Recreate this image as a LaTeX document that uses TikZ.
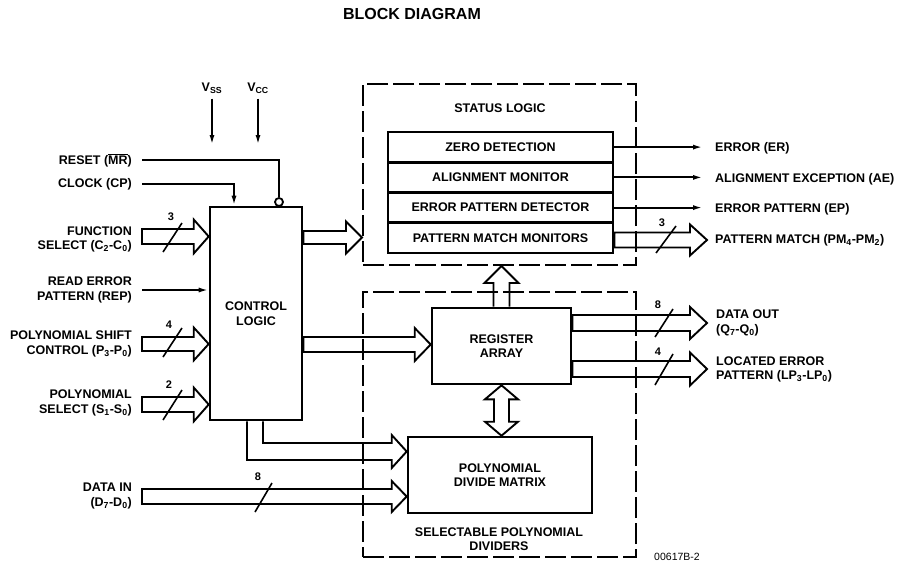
\documentclass[tikz,border=0pt]{standalone}
\usepackage{fontspec}
\setmainfont{Liberation Sans}
\usetikzlibrary{arrows.meta,calc}
% horizontal fat arrow: #1 start, #2 tip, #3 half shaft, #4 half head, #5 head length
\newcommand\fatR[5]{%
  \draw[fat] let \p1=#1, \p2=#2 in
  ({\x1},{\y2+#3pt}) -- ({\x2-#5pt},{\y2+#3pt}) -- ({\x2-#5pt},{\y2+#4pt}) -- ({\x2},{\y2})
  -- ({\x2-#5pt},{\y2-#4pt}) -- ({\x2-#5pt},{\y2-#3pt}) -- ({\x1},{\y2-#3pt}) -- cycle;}
% vertical fat arrow pointing up: #1 start (bottom), #2 tip (top)
\newcommand\fatU[5]{%
  \draw[fat] let \p1=#1, \p2=#2 in
  ({\x2-#3pt},{\y1}) -- ({\x2-#3pt},{\y2-#5pt}) -- ({\x2-#4pt},{\y2-#5pt}) -- ({\x2},{\y2})
  -- ({\x2+#4pt},{\y2-#5pt}) -- ({\x2+#3pt},{\y2-#5pt}) -- ({\x2+#3pt},{\y1});}
% vertical double fat arrow: #1 top tip, #2 bottom tip
\newcommand\fatUD[5]{%
  \draw[fat] let \p1=#1, \p2=#2 in
  ({\x1},{\y1}) -- ({\x1+#4pt},{\y1-#5pt}) -- ({\x1+#3pt},{\y1-#5pt}) -- ({\x1+#3pt},{\y2+#5pt})
  -- ({\x1+#4pt},{\y2+#5pt}) -- ({\x1},{\y2}) -- ({\x1-#4pt},{\y2+#5pt}) -- ({\x1-#3pt},{\y2+#5pt})
  -- ({\x1-#3pt},{\y1-#5pt}) -- ({\x1-#4pt},{\y1-#5pt}) -- cycle;}
\begin{document}
\begin{tikzpicture}[x=1pt,y=-1pt,
  txt/.style={font=\bfseries\fontsize{12.5}{14.5}\selectfont, inner sep=0pt},
  lbl/.style={txt, align=right, anchor=east},
  rlbl/.style={txt, align=left, anchor=west},
  ctext/.style={txt, align=center},
  box/.style={draw, line width=2.6pt, ctext},
  rowbox/.style={draw, line width=2.6pt, minimum width=225pt, minimum height=30.25pt, ctext},
  dbox/.style={draw, line width=2pt, dash pattern=on 21pt off 5pt},
  fat/.style={draw, line width=1.9pt, line join=miter},
  thinline/.style={line width=1.9pt},
  sig/.style={thinline, -{Latex[length=10pt,width=5pt]}},
  slash/.style={line width=1.6pt},
  num/.style={font=\bfseries\fontsize{11}{12}\selectfont, inner sep=0pt}
]
\useasboundingbox (0,0) rectangle (901,562);

% title
\node[font=\bfseries\fontsize{16}{18}\selectfont, inner sep=0pt] (title) at (412,14) {BLOCK DIAGRAM};

% main blocks
\node[box, minimum width=92pt, minimum height=213pt] (ctrl) at (256,313.5) {CONTROL\\LOGIC};
\node[dbox, minimum width=273pt, minimum height=181pt] (stat) at (499.5,174.5) {};
\node[dbox, minimum width=273pt, minimum height=265pt] (spd) at (499.5,424.5) {};
\node[ctext] (statlbl) at (500,108) {STATUS LOGIC};
\node[ctext] (spdlbl) at (499,539) {SELECTABLE POLYNOMIAL\\DIVIDERS};
\node[rowbox] (zd) at (500.5,147.1) {ZERO DETECTION};
\node[rowbox] (am) at (500.5,177.4) {ALIGNMENT MONITOR};
\node[rowbox] (epd) at (500.5,207.6) {ERROR PATTERN DETECTOR};
\node[rowbox] (pmm) at (500.5,237.9) {PATTERN MATCH MONITORS};
\node[box, minimum width=139pt, minimum height=76pt] (reg) at (501.5,346) {REGISTER\\ARRAY};
\node[box, minimum width=184pt, minimum height=76pt] (pdm) at (500,475) {POLYNOMIAL\\DIVIDE MATRIX};

% supply pins
\node[txt] (vss) at (212,88) {V\textsubscript{SS}};
\node[txt] (vcc) at (258,88) {V\textsubscript{CC}};
\coordinate (vssEnd) at (212,145);
\coordinate (vccEnd) at (258,145);
\draw[sig] ([yshift=-5pt]vss.south) -- (vssEnd);
\draw[sig] ([yshift=-5pt]vcc.south -| vccEnd) -- (vccEnd);

% left labels
\node[lbl] (rst) at (132,160) {RESET ($\overline{\mbox{MR}}$)};
\node[lbl] (clk) at (132,184) {CLOCK (CP)};
\node[lbl] (fs) at (132,239.5) {FUNCTION\\SELECT (C\textsubscript{2}-C\textsubscript{0})};
\node[lbl] (rep) at (132,290) {READ ERROR\\PATTERN (REP)};
\node[lbl] (psc) at (132,344) {POLYNOMIAL SHIFT\\CONTROL (P\textsubscript{3}-P\textsubscript{0})};
\node[lbl] (ps) at (132,403) {POLYNOMIAL\\SELECT (S\textsubscript{1}-S\textsubscript{0})};
\node[lbl] (din) at (132,496) {DATA IN\\(D\textsubscript{7}-D\textsubscript{0})};

% right labels
\node[rlbl] (er) at (715,148) {ERROR (ER)};
\node[rlbl] (ae) at (715,179) {ALIGNMENT EXCEPTION (AE)};
\node[rlbl] (ep) at (715,209.5) {ERROR PATTERN (EP)};
\node[rlbl] (pm) at (715,240) {PATTERN MATCH (PM\textsubscript{4}-PM\textsubscript{2})};
\node[rlbl] (dout) at (716,323) {DATA OUT\\(Q\textsubscript{7}-Q\textsubscript{0})};
\node[rlbl] (lep) at (716,369.5) {LOCATED ERROR\\PATTERN (LP\textsubscript{3}-LP\textsubscript{0})};

% reset and clock
\node[circle, draw, line width=1.8pt, minimum size=8pt, inner sep=0pt] (bub) at (279,202) {};
\draw[thinline] ([xshift=10pt]rst.east) -| (bub.north);
\path (ctrl.north) ++(-22,0) coordinate (clkin);
\draw[sig] ([xshift=10pt]clk.east) -| (clkin);
\draw[sig] ([xshift=10pt]rep.east) -- (ctrl.west |- rep.east);

% input bus arrows
\coordinate (fsY) at (0,236.5);
\coordinate (pscY) at (0,344);
\coordinate (psY) at (0,404.5);
\coordinate (diY) at (0,496.5);
\fatR{([xshift=10pt]fs.east)}{(ctrl.west |- fsY)}{7.5}{17}{15}
\fatR{([xshift=10pt]psc.east)}{(ctrl.west |- pscY)}{7}{16.5}{15}
\fatR{([xshift=10pt]ps.east)}{(ctrl.west |- psY)}{7.5}{17}{15}
\fatR{([xshift=10pt]din.east)}{(pdm.west |- diY)}{7.5}{15.5}{15}

% control outputs
\coordinate (csY) at (0,237.5);
\coordinate (crY) at (0,344.5);
\fatR{(ctrl.east)}{(stat.west |- csY)}{6.5}{16}{16}
\fatR{(ctrl.east)}{(reg.west |- crY)}{7.5}{16.5}{16}
\coordinate (lTip) at (pdm.west |- 0,451.5);
\draw[fat] ([xshift=-9pt]ctrl.south) |- ($(lTip)+(-15,8.5)$) -- ($(lTip)+(-15,16.5)$) -- (lTip)
  -- ($(lTip)+(-15,-16.5)$) -- ($(lTip)+(-15,-8.5)$) -| ([xshift=7pt]ctrl.south);

% register array connections
\fatU{(reg.north)}{(reg.north |- stat.south)}{8}{17}{17}
\fatUD{(reg.south)}{(reg.south |- pdm.north)}{7.5}{16.5}{14}

% outputs
\coordinate (outX) at (707,0);
\coordinate (pmY) at (0,240);
\coordinate (doY) at (0,323);
\coordinate (leY) at (0,369);
\draw[sig] (zd.east) -- ([xshift=-12pt]er.west |- zd.east);
\draw[sig] (am.east) -- ([xshift=-12pt]ae.west |- am.east);
\draw[sig] (epd.east) -- ([xshift=-12pt]ep.west |- epd.east);
\fatR{(pmm.east)}{(outX |- pmY)}{7.5}{15.5}{17}
\fatR{(reg.east)}{(outX |- doY)}{8}{16}{17}
\fatR{(reg.east)}{(outX |- leY)}{8}{16.5}{17}

% bus widths
\node[num] (n1) at (171,217) {3};
\draw[slash] (163,252) -- (182,223);
\node[num] (n2) at (169,325) {4};
\draw[slash] (163,357) -- (182,328);
\node[num] (n3) at (169,385) {2};
\draw[slash] (163,420) -- (182,390);
\node[num] (n4) at (258,477) {8};
\draw[slash] (255,512) -- (272,483);
\node[num] (n5) at (662,223) {3};
\draw[slash] (656,253) -- (676,226);
\node[num] (n6) at (658,305) {8};
\draw[slash] (655,337) -- (673,309);
\node[num] (n7) at (658,352) {4};
\draw[slash] (655,385) -- (673,354);

% figure id
\node[font=\fontsize{10.5}{12}\selectfont, inner sep=0pt] (fid) at (677,557) {00617B-2};
\end{tikzpicture}
\end{document}
